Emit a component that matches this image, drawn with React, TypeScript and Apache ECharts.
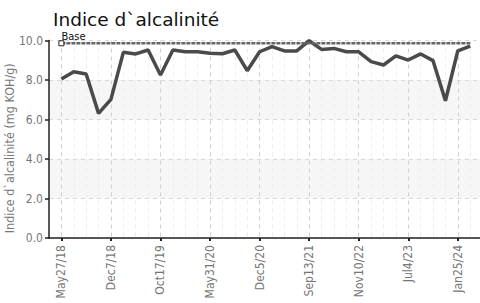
import React, { useEffect, useRef } from "react";
import * as echarts from "echarts";

const titleText = "Indice d`alcalinité";
const yAxisName = "Indice d`alcalinité (mg KOH/g)";
const baseLabel = "Base";
const baseValue = 9.86;
const categories = [
  "May27/18", "", "", "",
  "Dec7/18", "", "", "",
  "Oct17/19", "", "", "",
  "May31/20", "", "", "",
  "Dec5/20", "", "", "",
  "Sep13/21", "", "", "",
  "Nov10/22", "", "", "",
  "Jul4/23", "", "", "",
  "Jan25/24", "",
];
const values = [
  8.05, 8.42, 8.3, 6.31, 7.02, 9.4, 9.32, 9.52, 8.25, 9.52,
  9.43, 9.43, 9.35, 9.33, 9.52, 8.47, 9.43, 9.69, 9.47, 9.47,
  9.99, 9.55, 9.6, 9.43, 9.43, 8.93, 8.76, 9.22, 9.01, 9.32,
  8.98, 6.95, 9.48, 9.72,
];

const condensed = "'DejaVu Sans Condensed', 'Liberation Sans Narrow', sans-serif";

export default function App() {
  const ref = useRef<HTMLDivElement>(null);
  useEffect(() => {
    if (!ref.current) return;
    const chart = echarts.init(ref.current, null, { renderer: "svg" });
    const baseData = categories.map((_, i) =>
      i === 0
        ? {
            value: baseValue,
            symbol: "rect",
            symbolSize: 5,
            itemStyle: { color: "#fff", borderColor: "#222", borderWidth: 1 },
            label: {
              show: true,
              formatter: baseLabel,
              position: [3, -9],
              align: "left",
              verticalAlign: "top",
              color: "#111",
              fontSize: 11,
              lineHeight: 11,
              fontFamily: condensed,
            },
          }
        : { value: baseValue, symbol: "none" }
    );
    chart.setOption({
      animation: false,
      title: {
        text: titleText,
        left: 53,
        top: 9,
        padding: 0,
        textStyle: {
          fontFamily: "'DejaVu Sans', sans-serif",
          fontSize: 18.5,
          lineHeight: 21,
          fontWeight: "normal",
          color: "#111",
        },
      },
      grid: {
        left: 49,
        right: -2.6,
        top: 40.5,
        bottom: 65,
        containLabel: false,
        outerBoundsMode: "none",
      },
      xAxis: {
        type: "category",
        data: categories,
        boundaryGap: false,
        min: -1,
        max: 34,
        axisLine: { show: true, lineStyle: { color: "#222", width: 1.5 } },
        axisTick: {
          show: true,
          interval: (i: number) => i >= 0 && i % 4 === 0,
          length: 3,
          lineStyle: { color: "#222", width: 2 },
        },
        axisLabel: {
          interval: (i: number) => i >= 0 && i % 4 === 0,
          rotate: 90,
          margin: 7,
          color: "#777",
          fontSize: 12,
          fontFamily: condensed,
        },
        splitLine: {
          show: true,
          interval: 0,
          lineStyle: {
            type: [4, 4],
            width: 1,
            color: ["#ececec", "#d0d0d0", "#ececec", "#ececec"],
          },
        },
      },
      yAxis: {
        type: "value",
        min: 0,
        max: 10,
        interval: 2,
        name: yAxisName,
        nameLocation: "middle",
        nameGap: 33,
        nameMoveOverlap: false,
        nameTextStyle: {
          color: "#777",
          fontSize: 12.5,
          fontFamily: condensed,
          padding: [0, 18, 0, 0],
        },
        axisLine: { show: true, lineStyle: { color: "#222", width: 1.5 } },
        axisTick: { show: true, length: 4, lineStyle: { color: "#222", width: 1.5 } },
        axisLabel: {
          formatter: (v: number) => v.toFixed(1),
          color: "#777",
          fontSize: 12,
          margin: 6,
          fontFamily: condensed,
        },
        splitLine: { show: true, lineStyle: { type: [4, 4], color: "#d8d8d8" } },
        splitArea: { show: true, areaStyle: { color: ["rgba(255,255,255,0)", "#f6f6f6"] } },
      },
      series: [
        {
          type: "line",
          data: values,
          symbol: "none",
          lineStyle: { color: "#4a4a4a", width: 3.5 },
          z: 3,
        },
        {
          type: "line",
          data: baseData,
          showSymbol: true,
          symbol: "none",
          lineStyle: { color: "#666", width: 2.5, type: [4, 1] },
          z: 4,
        },
      ],
    });
    return () => chart.dispose();
  }, []);
  return (
    <div
      ref={ref}
      style={{ position: "absolute", left: 0, top: 0, width: 480, height: 303 }}
    />
  );
}
